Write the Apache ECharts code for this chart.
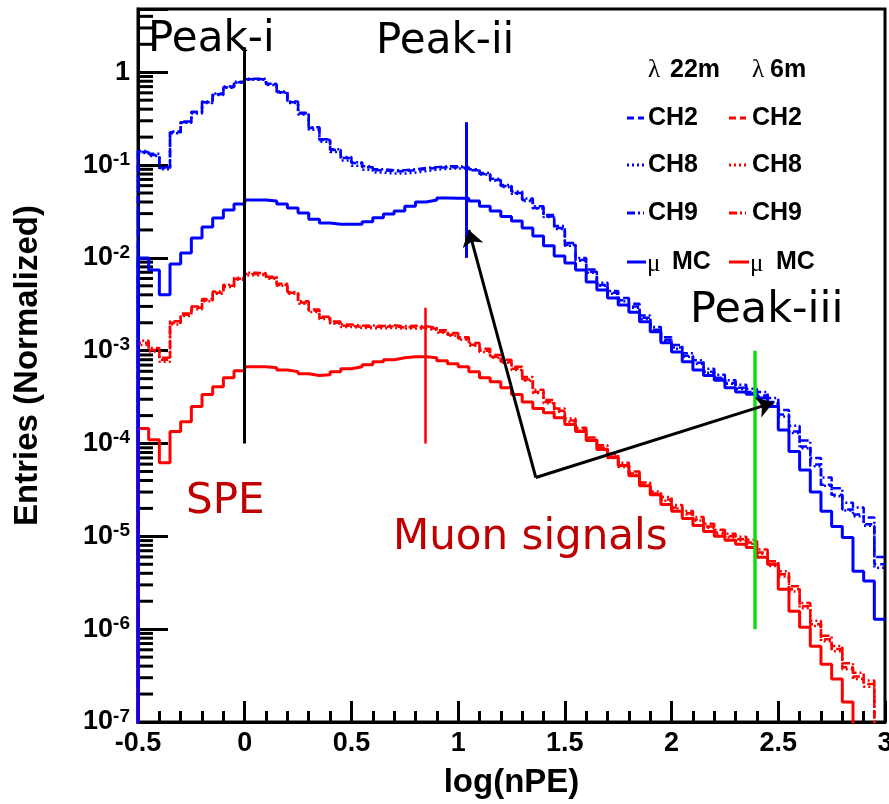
<!DOCTYPE html>
<html><head><meta charset="utf-8">
<script src="https://cdn.jsdelivr.net/npm/echarts@6/dist/echarts.min.js"></script>
<style>html,body{margin:0;padding:0;background:#fff}#c{width:889px;height:804px}</style>
</head><body><div id="c"></div><script>
// ---- axis setup ----
const xMin = -0.5, xMax = 3.0, xInterval = 0.5;
const yMin = 1e-7, yMax = 4.8;
const binLow = -0.5, binWidth = 0.05;
const EMPTY = 1e-9; // empty bin (below the axis)

// ---- histogram contents (70 bins of 0.05 in log(nPE), from -0.5) ----
const blueCH2 = [0.138,0.128,0.093,0.226,0.29,0.37,0.476,0.58,0.69,0.78,
 0.84,0.84,0.74,0.61,0.476,0.36,0.25,0.186,0.145,0.119,
 0.105,0.095,0.088,0.086,0.086,0.088,0.091,0.093,0.095,0.095,
 0.093,0.088,0.080,0.069,0.0595,0.050,0.042,0.0345,0.028,0.021,
 0.0138,9.5e-3,7.1e-3,5.1e-3,4.2e-3,3.5e-3,3.0e-3,2.26e-3,1.68e-3,1.31e-3,
 1.08e-3,8.8e-4,7.4e-4,5.95e-4,5.1e-4,4.5e-4,4.0e-4,3.6e-4,3.3e-4,2.8e-4,
 2.05e-4,1.35e-4,9.3e-5,5.95e-5,3.6e-5,2.8e-5,1.95e-5,1.72e-5,1.35e-5,5.0e-6];
const blueCH8 = [0.135,0.125,0.090,0.22,0.285,0.36,0.465,0.57,0.68,0.77,
 0.83,0.83,0.73,0.60,0.465,0.35,0.24,0.178,0.138,0.112,
 0.098,0.089,0.083,0.081,0.081,0.083,0.086,0.089,0.091,0.092,
 0.091,0.087,0.079,0.068,0.058,0.049,0.041,0.034,0.0275,0.0205,
 0.0135,9.3e-3,6.9e-3,5.0e-3,4.1e-3,3.4e-3,2.9e-3,2.2e-3,1.64e-3,1.28e-3,
 1.05e-3,8.6e-4,7.2e-4,5.8e-4,5.0e-4,4.4e-4,3.9e-4,3.5e-4,3.2e-4,2.7e-4,
 1.95e-4,1.3e-4,8.9e-5,5.7e-5,3.5e-5,2.7e-5,1.9e-5,1.65e-5,1.3e-5,4.6e-6];
const blueCH9 = [0.142,0.132,0.095,0.23,0.295,0.375,0.485,0.59,0.70,0.79,
 0.85,0.85,0.75,0.62,0.485,0.365,0.255,0.19,0.148,0.122,
 0.107,0.097,0.09,0.088,0.088,0.09,0.093,0.095,0.097,0.097,
 0.095,0.09,0.082,0.071,0.061,0.052,0.0435,0.036,0.029,0.022,
 0.0145,0.01,7.5e-3,5.4e-3,4.4e-3,3.7e-3,3.2e-3,2.4e-3,1.8e-3,1.4e-3,
 1.15e-3,9.4e-4,7.9e-4,6.4e-4,5.5e-4,4.8e-4,4.3e-4,3.9e-4,3.6e-4,3.1e-4,
 2.3e-4,1.55e-4,1.08e-4,7.0e-5,4.3e-5,3.3e-5,2.3e-5,2.05e-5,1.6e-5,6.0e-6];
const blueMC = [0.0100,7.4e-3,4.0e-3,8.6e-3,1.13e-2,1.64e-2,2.15e-2,2.69e-2,3.28e-2,3.8e-2,
 4.2e-2,4.2e-2,4.1e-2,3.8e-2,3.45e-2,3.05e-2,2.6e-2,2.38e-2,2.3e-2,2.3e-2,
 2.3e-2,2.45e-2,2.7e-2,2.97e-2,3.2e-2,3.6e-2,4.0e-2,4.2e-2,4.42e-2,4.4e-2,
 4.4e-2,4.1e-2,3.6e-2,3.2e-2,2.8e-2,2.5e-2,2.1e-2,1.72e-2,1.35e-2,1.05e-2,
 8.8e-3,7.4e-3,5.5e-3,4.5e-3,3.7e-3,3.1e-3,2.6e-3,2.05e-3,1.6e-3,1.22e-3,
 9.7e-4,7.6e-4,6.2e-4,5.4e-4,4.8e-4,4.0e-4,3.6e-4,3.4e-4,3.1e-4,2.5e-4,
 1.4e-4,8.2e-5,5.2e-5,3.0e-5,1.86e-5,1.28e-5,9.7e-6,4.2e-6,3.3e-6,1.28e-6];
const redCH2 = [1.22e-3,1.02e-3,8.0e-4,2.0e-3,2.44e-3,2.9e-3,3.5e-3,4.2e-3,5.0e-3,5.95e-3,
 6.7e-3,6.7e-3,6.1e-3,5.1e-3,4.2e-3,3.3e-3,2.7e-3,2.26e-3,2.0e-3,1.86e-3,
 1.81e-3,1.81e-3,1.8e-3,1.83e-3,1.78e-3,1.8e-3,1.77e-3,1.72e-3,1.6e-3,1.49e-3,
 1.35e-3,1.16e-3,1.0e-3,8.6e-4,7.6e-4,6.4e-4,4.9e-4,3.6e-4,2.8e-4,2.26e-4,
 1.77e-4,1.41e-4,1.1e-4,9.06e-5,7.25e-5,5.8e-5,4.76e-5,3.6e-5,2.9e-5,2.5e-5,
 2.05e-5,1.77e-5,1.52e-5,1.28e-5,1.1e-5,1.0e-5,9.3e-6,8.6e-6,6.7e-6,5.0e-6,
 3.9e-6,2.69e-6,1.77e-6,1.13e-6,7.8e-7,6.1e-7,3.9e-7,3.1e-7,2.56e-7,EMPTY];
const redCH8 = [1.15e-3,9.8e-4,7.6e-4,1.92e-3,2.36e-3,2.8e-3,3.4e-3,4.1e-3,4.85e-3,5.8e-3,
 6.5e-3,6.55e-3,5.95e-3,5.0e-3,4.1e-3,3.2e-3,2.62e-3,2.2e-3,1.95e-3,1.8e-3,
 1.76e-3,1.75e-3,1.74e-3,1.76e-3,1.73e-3,1.74e-3,1.72e-3,1.67e-3,1.56e-3,1.45e-3,
 1.31e-3,1.13e-3,9.7e-4,8.4e-4,7.4e-4,6.2e-4,4.75e-4,3.5e-4,2.72e-4,2.2e-4,
 1.72e-4,1.37e-4,1.07e-4,8.8e-5,7.0e-5,5.6e-5,4.6e-5,3.5e-5,2.8e-5,2.42e-5,
 2.0e-5,1.72e-5,1.48e-5,1.24e-5,1.07e-5,9.7e-6,9.0e-6,8.3e-6,6.5e-6,4.8e-6,
 3.7e-6,2.55e-6,1.68e-6,1.08e-6,7.4e-7,5.8e-7,3.7e-7,2.9e-7,2.4e-7,EMPTY];
const redCH9 = [1.28e-3,1.07e-3,8.4e-4,2.08e-3,2.52e-3,3.0e-3,3.6e-3,4.35e-3,5.15e-3,6.1e-3,
 6.9e-3,6.85e-3,6.25e-3,5.25e-3,4.3e-3,3.4e-3,2.78e-3,2.32e-3,2.06e-3,1.92e-3,
 1.86e-3,1.87e-3,1.85e-3,1.88e-3,1.84e-3,1.86e-3,1.83e-3,1.78e-3,1.66e-3,1.55e-3,
 1.4e-3,1.21e-3,1.05e-3,9.0e-4,8.0e-4,6.7e-4,5.2e-4,3.8e-4,2.95e-4,2.38e-4,
 1.86e-4,1.48e-4,1.16e-4,9.6e-5,7.7e-5,6.2e-5,5.0e-5,3.8e-5,3.05e-5,2.65e-5,
 2.17e-5,1.88e-5,1.62e-5,1.37e-5,1.18e-5,1.07e-5,9.9e-6,9.2e-6,7.2e-6,5.4e-6,
 4.2e-6,2.9e-6,1.92e-6,1.23e-6,8.5e-7,6.6e-7,4.3e-7,3.4e-7,2.8e-7,EMPTY];
const redMC = [1.45e-4,1.1e-4,6.2e-5,1.35e-4,1.72e-4,2.5e-4,3.37e-4,4.1e-4,5.1e-4,6.1e-4,
 6.7e-4,6.7e-4,6.56e-4,6.2e-4,5.95e-4,5.66e-4,5.4e-4,5.5e-4,5.95e-4,6.4e-4,
 6.7e-4,7.07e-4,7.6e-4,8.0e-4,8.4e-4,8.6e-4,8.6e-4,8.4e-4,7.8e-4,7.25e-4,
 6.7e-4,5.95e-4,5.1e-4,4.64e-4,4.0e-4,3.37e-4,2.8e-4,2.38e-4,2.15e-4,1.9e-4,
 1.6e-4,1.35e-4,1.08e-4,8.6e-5,7.07e-5,5.8e-5,4.5e-5,3.5e-5,2.8e-5,2.2e-5,
 1.86e-5,1.56e-5,1.31e-5,1.13e-5,1.0e-5,9.06e-6,8.2e-6,7.6e-6,5.95e-6,5.0e-6,
 2.69e-6,1.56e-6,1.05e-6,6.56e-7,4.2e-7,2.9e-7,1.64e-7,EMPTY,EMPTY,EMPTY];

// ---- annotation marks: [x, yTop, yBottom] in data units ----
const peakI   = [0.0, 1.86, 1e-4];
const peakIIb = [1.04, 0.29, 0.01];
const peakIIr = [0.845, 2.9e-3, 1e-4];
const peakIII = [2.39, 1e-3, 1e-6];
const arrowFrom = [1.364, 4.3e-5];
const arrowTips = [[1.05, 0.02], [2.477, 2.76e-4]];

const SANS = '"Liberation Sans", Arial, sans-serif';
const SERIF = '"Liberation Serif", "Times New Roman", serif';
const ANN = '"DejaVu Sans", sans-serif';

function hist(vals) {
  const d = [[binLow, EMPTY]];
  vals.forEach((v, i) => d.push([binLow + i * binWidth, v]));
  d.push([binLow + vals.length * binWidth, vals[vals.length - 1]]);
  return d;
}
const DASH = [7, 4], DOT = [2, 3], DASHDOT = [8, 3, 2, 3];
function hs(name, vals, color, dash, width) {
  return { name, type: 'line', step: 'end', data: hist(vals), symbol: 'none', silent: true,
    lineStyle: { color, width, type: dash || 'solid' }, clip: true, z: 3 };
}
function vline(m, color, width) {
  return [{ coord: [m[0], m[1]], lineStyle: { color, width, type: 'solid' } }, { coord: [m[0], m[2]] }];
}

const yMinorTicks = [];
for (let k = -7; k <= 0; k++) for (let m = 2; m <= 9; m++) {
  const v = m * Math.pow(10, k); if (v < yMax) yMinorTicks.push(v);
}

const chart = echarts.init(document.getElementById('c'), null, { renderer: 'canvas' });
const option = {
  animation: false,
  backgroundColor: '#fff',
  grid: { left: 138, right: 4, top: 9, bottom: 82, show: true, borderColor: '#000', borderWidth: 3,
    containLabel: false, outerBoundsMode: 'none' },
  xAxis: {
    type: 'value', min: xMin, max: xMax, interval: xInterval,
    axisLine: { onZero: false, lineStyle: { color: '#000', width: 3 } },
    axisTick: { inside: true, length: 21, lineStyle: { color: '#000', width: 3 } },
    minorTick: { show: true, splitNumber: 5, length: 11, lineStyle: { color: '#000', width: 3 } },
    splitLine: { show: false },
    axisLabel: { color: '#000', fontFamily: SANS, fontWeight: 'bold', fontSize: 27, margin: 8 },
    name: 'log(nPE)', nameLocation: 'middle', nameGap: 44,
    nameTextStyle: { color: '#000', fontFamily: SANS, fontWeight: 'bold', fontSize: 33 }
  },
  yAxis: {
    type: 'log', logBase: 10, min: yMin, max: yMax,
    axisLine: { onZero: false, lineStyle: { color: '#000', width: 3 } },
    axisTick: { inside: true, length: 30, lineStyle: { color: '#000', width: 3 } },
    splitLine: { show: false },
    axisLabel: {
      margin: 8,
      formatter: function (v) {
        const l = Math.log10(v), e = Math.round(l);
        if (Math.abs(l - e) > 1e-6) return '';
        return e === 0 ? '{b|1}' : '{b|10}{s|' + e + '}';
      },
      rich: {
        b: { color: '#000', fontFamily: SANS, fontWeight: 'bold', fontSize: 27, lineHeight: 30 },
        s: { color: '#000', fontFamily: SANS, fontWeight: 'bold', fontSize: 19, verticalAlign: 'top' }
      }
    },
    name: 'Entries (Normalized)', nameLocation: 'middle', nameGap: 94,
    nameTextStyle: { color: '#000', fontFamily: SANS, fontWeight: 'bold', fontSize: 33 }
  },
  series: [
    hs('λ 6m CH2', redCH2, '#ff0000', DASH, 2.5),
    hs('λ 6m CH8', redCH8, '#ff0000', DOT, 2.5),
    hs('λ 6m CH9', redCH9, '#ff0000', DASHDOT, 2.5),
    hs('λ 6m μ MC', redMC, '#ff0000', null, 3),
    hs('λ 22m CH2', blueCH2, '#0000ff', DASH, 2.5),
    hs('λ 22m CH8', blueCH8, '#0000ff', DOT, 2.5),
    hs('λ 22m CH9', blueCH9, '#0000ff', DASHDOT, 2.5),
    hs('λ 22m μ MC', blueMC, '#0000ff', null, 3),
    {
      type: 'custom', silent: true, z: 2, clip: false,
      data: yMinorTicks.map(v => [xMin, v]),
      renderItem: function (params, api) {
        const p = api.coord([api.value(0), api.value(1)]);
        return { type: 'line', shape: { x1: p[0], y1: p[1], x2: p[0] + 15, y2: p[1] },
          style: { stroke: '#000', lineWidth: 3 } };
      }
    },
    {
      type: 'line', data: [], silent: true, z: 5,
      markLine: {
        silent: true, symbol: ['none', 'none'], animation: false,
        label: { show: false },
        lineStyle: { type: 'solid' },
        data: [
          vline(peakI, '#000', 3),
          vline(peakIIb, '#0000ff', 3),
          vline(peakIIr, '#ff0000', 2.5),
          vline(peakIII, '#11dd11', 3.5)
        ]
      }
    },
    {
      type: 'line', data: [], silent: true, z: 6,
      markLine: {
        silent: true, symbol: ['none', 'arrow'], symbolSize: 16, animation: false,
        label: { show: false },
        lineStyle: { color: '#000', width: 3, type: 'solid' },
        data: arrowTips.map(t => [{ coord: arrowFrom }, { coord: t }])
      }
    }
  ],
  graphic: [
    { type: 'text', x: 148, y: 40, style: { text: 'Peak-i', font: '42px ' + ANN, fill: '#000', verticalAlign: 'middle' }, z: 10 },
    { type: 'text', x: 376, y: 42, style: { text: 'Peak-ii', font: '42px ' + ANN, fill: '#000', verticalAlign: 'middle' }, z: 10 },
    { type: 'text', x: 690, y: 311, style: { text: 'Peak-iii', font: '43px ' + ANN, fill: '#000', verticalAlign: 'middle' }, z: 10 },
    { type: 'text', x: 186, y: 502, style: { text: 'SPE', font: '42px ' + ANN, fill: '#c00000', verticalAlign: 'middle' }, z: 10 },
    { type: 'text', x: 393, y: 538, style: { text: 'Muon signals', font: '42px ' + ANN, fill: '#c00000', verticalAlign: 'middle' }, z: 10 },
    // legend
    { type: 'text', x: 648, y: 70, style: { text: 'λ', font: '25px ' + SERIF, fill: '#000', verticalAlign: 'middle' }, z: 10 },
    { type: 'text', x: 670, y: 70, style: { text: '22m', font: 'bold 25px ' + SANS, fill: '#000', verticalAlign: 'middle' }, z: 10 },
    { type: 'text', x: 752, y: 70, style: { text: 'λ', font: '25px ' + SERIF, fill: '#000', verticalAlign: 'middle' }, z: 10 },
    { type: 'text', x: 770, y: 70, style: { text: '6m', font: 'bold 25px ' + SANS, fill: '#000', verticalAlign: 'middle' }, z: 10 },
    ...[['CH2', 118, DASH], ['CH8', 165, DOT], ['CH9', 213, DASHDOT]].flatMap(([t, y, d]) => [
      { type: 'line', shape: { x1: 627, y1: y, x2: 644, y2: y }, style: { stroke: '#0000ff', lineWidth: 3, lineDash: d }, z: 10 },
      { type: 'text', x: 648, y: y, style: { text: t, font: 'bold 25px ' + SANS, fill: '#000', verticalAlign: 'middle' }, z: 10 },
      { type: 'line', shape: { x1: 729, y1: y, x2: 746, y2: y }, style: { stroke: '#ff0000', lineWidth: 3, lineDash: d }, z: 10 },
      { type: 'text', x: 752, y: y, style: { text: t, font: 'bold 25px ' + SANS, fill: '#000', verticalAlign: 'middle' }, z: 10 }
    ]),
    { type: 'line', shape: { x1: 627, y1: 262, x2: 646, y2: 262 }, style: { stroke: '#0000ff', lineWidth: 3 }, z: 10 },
    { type: 'text', x: 647, y: 264, style: { text: 'μ', font: '25px ' + SERIF, fill: '#000', verticalAlign: 'middle' }, z: 10 },
    { type: 'text', x: 672, y: 262, style: { text: 'MC', font: 'bold 25px ' + SANS, fill: '#000', verticalAlign: 'middle' }, z: 10 },
    { type: 'line', shape: { x1: 729, y1: 262, x2: 749, y2: 262 }, style: { stroke: '#ff0000', lineWidth: 3 }, z: 10 },
    { type: 'text', x: 750, y: 264, style: { text: 'μ', font: '25px ' + SERIF, fill: '#000', verticalAlign: 'middle' }, z: 10 },
    { type: 'text', x: 776, y: 262, style: { text: 'MC', font: 'bold 25px ' + SANS, fill: '#000', verticalAlign: 'middle' }, z: 10 }
  ]
};
chart.setOption(option);
</script></body></html>
